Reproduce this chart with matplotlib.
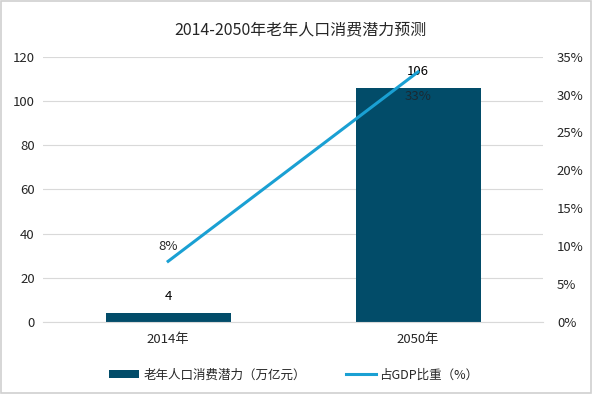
import matplotlib.pyplot as plt
import numpy as np
from matplotlib.patches import Rectangle
from matplotlib.ticker import FuncFormatter

plt.rcParams['font.family'] = ['Noto Sans CJK SC', 'DejaVu Sans']

years = ["2014年", "2050年"]
potential = [4, 106]          # 老年人口消费潜力（万亿元）
gdp_share = [8, 33]           # 占GDP比重（%）

bar_color = "#024C69"
line_color = "#1AA0D3"
text_color = "#262626"

fig = plt.figure(figsize=(6.0, 3.94), dpi=100)
fig.patches.append(Rectangle((0.002, 0.002), 0.983, 0.995, transform=fig.transFigure,
                             fill=False, edgecolor="#d0d0d0", linewidth=1.2))
ax = fig.add_axes([0.072, 0.183, 0.833, 0.673])
x = np.arange(len(years))

ax.bar(x, potential, width=0.5, color=bar_color, zorder=2, label="老年人口消费潜力（万亿元）")
ax.set_ylim(0, 120)
ax.set_yticks(range(0, 121, 20))
ax.set_xlim(-0.5, 1.5)
ax.set_xticks(x)
ax.set_xticklabels(years)
ax.grid(axis="y", color="#d9d9d9", linewidth=0.8, zorder=0)
for s in ax.spines.values():
    s.set_visible(False)
ax.spines["bottom"].set_visible(True)
ax.spines["bottom"].set_color("#d9d9d9")
ax.tick_params(axis="both", length=0, labelsize=9.5, colors=text_color, pad=6)
ax.tick_params(axis="x", pad=8)

ax2 = ax.twinx()
ax2.plot(x, gdp_share, color=line_color, linewidth=2.2, zorder=3, label="占GDP比重（%）")
ax2.set_ylim(0, 35)
ax2.set_yticks(range(0, 36, 5))
ax2.yaxis.set_major_formatter(FuncFormatter(lambda v, p: f"{v:.0f}%"))
for s in ax2.spines.values():
    s.set_visible(False)
ax2.tick_params(axis="y", length=0, labelsize=9.5, colors=text_color, pad=10)

for xi, v in zip(x, potential):
    ax.annotate(f"{v}", (xi, v), xytext=(0, 7), textcoords="offset points",
                ha="center", va="bottom", fontsize=9.5, color="black")
ax2.annotate(f"{gdp_share[0]}%", (x[0], gdp_share[0]), xytext=(0, 6), textcoords="offset points",
             ha="center", va="bottom", fontsize=9.5, color=text_color)
ax2.annotate(f"{gdp_share[1]}%", (x[1], gdp_share[1]), xytext=(0, -13), textcoords="offset points",
             ha="center", va="top", fontsize=9.5, color="#1a2a33")

fig.text(0.5, 0.925, "2014-2050年老年人口消费潜力预测", ha="center", va="center",
         fontsize=11.5, color=text_color)

h1, l1 = ax.get_legend_handles_labels()
h2, l2 = ax2.get_legend_handles_labels()
fig.legend(h1 + h2, l1 + l2, loc="center", bbox_to_anchor=(0.49, 0.048), ncol=2,
           frameon=False, fontsize=9, handlelength=2.4, handleheight=0.55,
           columnspacing=3.2, handletextpad=0.3, labelcolor=text_color)

fig.savefig("out.png", dpi=100)
